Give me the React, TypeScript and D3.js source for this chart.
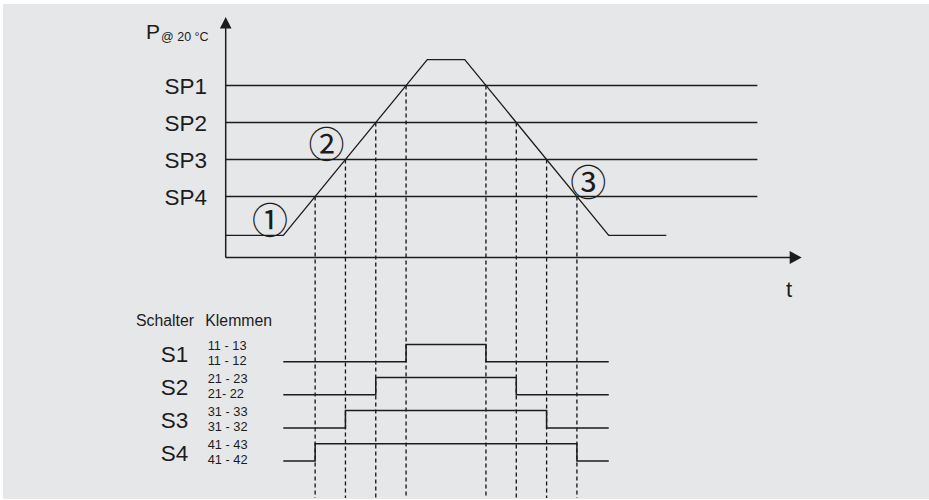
import React from "react";
import * as d3 from "d3";

// ---- data ----
const setpointLabels = ["SP1", "SP2", "SP3", "SP4"];
const setpointValues = [4.65, 3.65, 2.65, 1.65];

const profileTimes = [0, 10, 35, 41.5, 66.5, 76.5];
const profileValues = [0.6, 0.6, 5.35, 5.35, 0.6, 0.6];

const setpointLineEnd = 92.3;
const timeMax = 100;
const pressureMax = 6.5;

const switchLabels = ["S1", "S2", "S3", "S4"];
const terminalsNO = ["11 - 13", "21 - 23", "31 - 33", "41 - 43"];
const terminalsNC = ["11 - 12", "21- 22", "31 - 32", "41 - 42"];

const annotationLabels = ["①", "②", "③"];
const annotationTimes = [7.69, 17.5, 62.95];
const annotationValues = [1.063, 3.127, 2.104];

const W = 929;
const H = 500;
const INK = "#1c1c1c";
const FONT = "'Liberation Sans', Arial, Helvetica, sans-serif";

function crossings(level: number): number[] {
  const out: number[] = [];
  for (let i = 0; i < profileTimes.length - 1; i++) {
    const v0 = profileValues[i], v1 = profileValues[i + 1];
    if ((v0 - level) * (v1 - level) < 0) {
      const f = (level - v0) / (v1 - v0);
      out.push(profileTimes[i] + f * (profileTimes[i + 1] - profileTimes[i]));
    }
  }
  return out;
}

export default function App() {
  const x = d3.scaleLinear().domain([0, timeMax]).range([225.7, 801.7]);
  const y = d3.scaleLinear().domain([0, pressureMax]).range([257.6, 17]);
  const row = d3.scaleLinear().domain([0, 3]).range([361.7, 461]);
  const highOffset = 17.3;

  const line = d3
    .line<number>()
    .x((_, i) => x(profileTimes[i]))
    .y((d) => y(d));

  const x0 = x(0);
  const y0 = y(0);
  const tStart = profileTimes[1];
  const tEnd = profileTimes[4];

  return (
    <svg
      width={W}
      height={H}
      style={{ position: "absolute", left: 0, top: 0, display: "block" }}
      fontFamily={FONT}
    >
      <rect x={0} y={0} width={W} height={H} fill="#ffffff" />
      <rect x={3} y={4} width={W - 3} height={495} fill="#e6e7e9" />

      {/* setpoint lines */}
      {setpointValues.map((v, i) => (
        <g key={setpointLabels[i]}>
          <line x1={x0} x2={x(setpointLineEnd)} y1={y(v)} y2={y(v)} stroke={INK} strokeWidth={1.3} />
          <text x={207} y={y(v) + 8.5} fontSize={22.5} textAnchor="end" fill={INK}>
            {setpointLabels[i]}
          </text>
        </g>
      ))}

      {/* dashed crossings */}
      {setpointValues.map((v, i) =>
        crossings(v).map((t, j) => (
          <line
            key={`d${i}-${j}`}
            x1={x(t)}
            x2={x(t)}
            y1={y(v)}
            y2={498}
            stroke="#111"
            strokeWidth={1.3}
            strokeDasharray="4 3"
          />
        ))
      )}

      {/* pressure profile */}
      <path d={line(profileValues) || ""} fill="none" stroke={INK} strokeWidth={1.3} />

      {/* axes */}
      <line x1={x0} x2={x0} y1={y0} y2={y(pressureMax) + 8} stroke={INK} strokeWidth={1.5} />
      <path d={`M${x0 - 5.8},${y(pressureMax) + 11.5} L${x0},${y(pressureMax)} L${x0 + 5.8},${y(pressureMax) + 11.5} Z`} fill={INK} />
      <line x1={x0} x2={x(timeMax) - 8} y1={y0} y2={y0} stroke={INK} strokeWidth={1.5} />
      <path d={`M${x(timeMax) - 12},${y0 - 6.5} L${x(timeMax)},${y0} L${x(timeMax) - 12},${y0 + 6.5} Z`} fill={INK} />

      <text x={146} y={39.3} fontSize={21} fill={INK}>
        P
        <tspan fontSize={12.5} dx={1} dy={1.5}>@ 20 °C</tspan>
      </text>
      <text x={789} y={297} fontSize={22} textAnchor="middle" fill={INK}>t</text>

      {/* annotations */}
      {annotationLabels.map((s, i) => (
        <text
          key={s}
          x={x(annotationTimes[i])}
          y={y(annotationValues[i])}
          fontSize={36}
          textAnchor="middle"
          dominantBaseline="central"
          fontFamily="'Noto Sans CJK JP', 'DejaVu Sans', sans-serif"
          fill={INK}
        >
          {s}
        </text>
      ))}

      {/* switch table */}
      <text x={136} y={326} fontSize={15.8} fill={INK}>Schalter</text>
      <text x={205.3} y={326} fontSize={15.8} fill={INK}>Klemmen</text>

      {switchLabels.map((s, i) => {
        const low = row(i);
        const high = low - highOffset;
        const [tUp, tDown] = crossings(setpointValues[i]);
        const d = `M${x(tStart)},${low} H${x(tUp)} V${high} H${x(tDown)} V${low} H${x(tEnd)}`;
        return (
          <g key={s}>
            <text x={174.5} y={low} fontSize={22.5} textAnchor="middle" fill={INK}>{s}</text>
            <text x={207.7} y={low - 12} fontSize={12.8} fill={INK}>{terminalsNO[i]}</text>
            <text x={207.7} y={low + 3.3} fontSize={12.8} fill={INK}>{terminalsNC[i]}</text>
            <path d={d} fill="none" stroke={INK} strokeWidth={1.5} />
          </g>
        );
      })}
    </svg>
  );
}
